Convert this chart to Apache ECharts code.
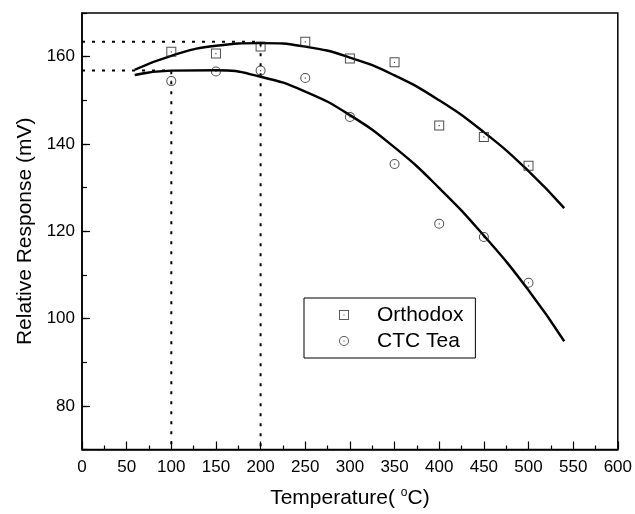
<!DOCTYPE html>
<html>
<head>
<meta charset="utf-8">
<script src="https://cdn.jsdelivr.net/npm/echarts@6/dist/echarts.min.js"></script>
<style>
html,body{margin:0;padding:0;background:#fff;}
#chart{width:635px;height:514px;}
</style>
</head>
<body>
<div id="chart"></div>
<script>
// Measured points
const temperatures = [100, 150, 200, 250, 300, 350, 400, 450, 500];
const orthodox = [161.1, 160.7, 162.3, 163.4, 159.6, 158.7, 144.2, 141.6, 135.0];
const ctcTea = [154.4, 156.6, 156.8, 155.1, 146.2, 135.4, 121.7, 118.7, 108.2];

// Fitted curves
const fitX = [59, 100, 150, 200, 250, 300, 350, 400, 450, 500, 540];
const orthodoxFit = [157.0, 160.2, 162.5, 163.1, 162.3, 159.8, 155.7, 150.0, 142.7, 133.8, 125.3];
const ctcFit = [155.8, 156.8, 156.9, 155.4, 152.0, 146.6, 139.2, 129.9, 119.0, 106.5, 94.8];

// Dotted guide lines: [x, y] peak markers
const guideOrthodox = [200, 163.4];
const guideCtc = [100, 156.8];

// Axis ticks
const yLabelValues = [80, 100, 120, 140, 160];

const pair = (xs, ys) => xs.map((x, i) => [x, ys[i]]);

const squareIcon = 'path://M0,0 L10,0 L10,10 L0,10 Z M1,1 L1,9 L9,9 L9,1 Z M4.4,4.4 L5.6,4.4 L5.6,5.6 L4.4,5.6 Z';
const circleIcon = 'path://M5,0 A5,5 0 1,1 5,10 A5,5 0 1,1 5,0 Z M5,1 A4,4 0 1,0 5,9 A4,4 0 1,0 5,1 Z M4.4,4.4 L5.6,4.4 L5.6,5.6 L4.4,5.6 Z';

const font = 'Liberation Sans';
const chart = echarts.init(document.getElementById('chart'), null, {renderer: 'canvas'});

const guideLine = (p) => ({
  type: 'line',
  data: [[0, p[1]], [p[0], p[1]], [p[0], 70]],
  symbol: 'none',
  silent: true,
  lineStyle: {color: '#000', width: 2, type: [3, 7]},
  z: 1
});

chart.setOption({
  animation: false,
  backgroundColor: '#fff',
  textStyle: {fontFamily: font, color: '#000'},
  grid: {
    left: 82, right: 16, top: 13, bottom: 64,
    show: true, borderColor: '#000', borderWidth: 1.5, backgroundColor: 'transparent'
  },
  legend: {
    data: [
      {name: 'Orthodox', icon: squareIcon},
      {name: 'CTC Tea', icon: circleIcon}
    ],
    orient: 'vertical',
    left: 304, top: 298,
    padding: [6, 12, 6, 35],
    itemWidth: 10, itemHeight: 10, itemGap: 4,
    borderColor: '#000', borderWidth: 1,
    backgroundColor: '#fff',
    textStyle: {fontFamily: font, fontSize: 21, color: '#000', lineHeight: 22, padding: [0, 0, 0, 23]},
    itemStyle: {color: '#333'}
  },
  xAxis: {
    type: 'value', min: 0, max: 600, interval: 50,
    name: 'Temperature( {sup|o}C)',
    nameLocation: 'middle', nameGap: 37,
    nameTextStyle: {
      fontFamily: font, fontSize: 21, color: '#000',
      rich: {sup: {fontFamily: font, fontSize: 12, color: '#000', verticalAlign: 'top', padding: [0, 0, 12, 0]}}
    },
    axisLine: {lineStyle: {color: '#000', width: 1.5}},
    axisTick: {inside: true, length: 8, lineStyle: {color: '#000', width: 1.2}},
    minorTick: {show: true, splitNumber: 2, length: 4, lineStyle: {color: '#000', width: 1.2}},
    axisLabel: {fontFamily: font, fontSize: 17, color: '#000', margin: 9},
    splitLine: {show: false}
  },
  yAxis: [
    {
      type: 'value', min: 70, max: 170, interval: 10,
      axisLine: {lineStyle: {color: '#000', width: 1.5}},
      axisTick: {inside: true, length: 5, lineStyle: {color: '#000', width: 1.2}},
      axisLabel: {show: false},
      splitLine: {show: false}
    },
    {
      type: 'value', min: 70, max: 170, interval: 10, position: 'left', offset: 0,
      name: 'Relative Response (mV)',
      nameLocation: 'middle', nameGap: 42,
      nameTextStyle: {fontFamily: font, fontSize: 21, color: '#000'},
      axisLine: {show: false},
      axisTick: {inside: true, length: 8, customValues: yLabelValues, lineStyle: {color: '#000', width: 1.2}},
      axisLabel: {fontFamily: font, fontSize: 17, color: '#000', margin: 7, customValues: yLabelValues},
      splitLine: {show: false}
    }
  ],
  series: [
    guideLine(guideOrthodox),
    guideLine(guideCtc),
    {
      type: 'line', name: 'Orthodox fit', data: pair(fitX, orthodoxFit),
      smooth: 0.5, symbol: 'none', lineStyle: {color: '#000', width: 2.4}, z: 2
    },
    {
      type: 'line', name: 'CTC Tea fit', data: pair(fitX, ctcFit),
      smooth: 0.5, symbol: 'none', lineStyle: {color: '#000', width: 2.4}, z: 2
    },
    {
      type: 'scatter', name: 'Orthodox', data: pair(temperatures, orthodox),
      symbol: squareIcon, symbolSize: 10, itemStyle: {color: '#222'}, z: 3
    },
    {
      type: 'scatter', name: 'CTC Tea', data: pair(temperatures, ctcTea),
      symbol: circleIcon, symbolSize: 10, itemStyle: {color: '#222'}, z: 3
    }
  ]
});
</script>
</body>
</html>
